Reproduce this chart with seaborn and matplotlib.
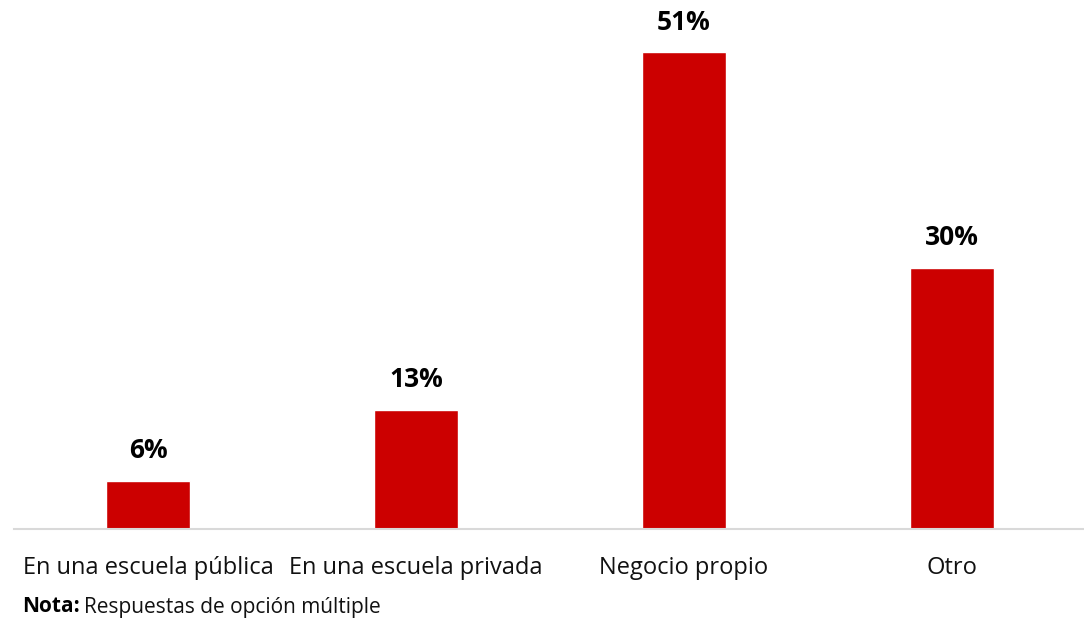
import matplotlib
matplotlib.use("Agg")
import matplotlib.pyplot as plt
import seaborn as sns
import pandas as pd

# data (bar heights) and the printed labels
categorias = ["En una escuela pública", "En una escuela privada", "Negocio propio", "Otro"]
valores = [5.1, 12.7, 51.0, 27.9]
etiquetas = ["6%", "13%", "51%", "30%"]

sns.set_theme(style="white")
plt.rcParams['font.family'] = ['Open Sans', 'DejaVu Sans']

df = pd.DataFrame({"cat": categorias, "val": valores})

W, H = 1084, 628
fig = plt.figure(figsize=(W / 100, H / 100), dpi=100)
ax = fig.add_axes([14 / W, (H - 528.5) / H, 1072 / W, 528.5 / H])

sns.barplot(data=df, x="cat", y="val", color="#cc0000", width=0.315,
            saturation=1, ax=ax)

ax.set_xlim(-0.5, 3.5)
ax.set_ylim(0, 56.6)
ax.set_xlabel("")
ax.set_ylabel("")
ax.set_yticks([])
for s in ["top", "right", "left"]:
    ax.spines[s].set_visible(False)
ax.spines["bottom"].set_color("#d9d9d9")
ax.spines["bottom"].set_linewidth(1.5)
ax.tick_params(axis="x", length=0, pad=20, labelsize=17, labelcolor="#111111")

for i, (v, t) in enumerate(zip(valores, etiquetas)):
    ax.annotate(t, (i, v), xytext=(0, 12), textcoords="offset points",
                ha="center", va="bottom", fontsize=19, fontweight="bold",
                color="#000000")

t1 = fig.text(22 / W, 1 - 607 / H, "Nota:", fontsize=15, fontweight="bold",
              va="center", ha="left", color="#000000")
fig.canvas.draw()
bb = t1.get_window_extent()
fig.text((bb.x1 + 4) / W, 1 - 607 / H, "Respuestas de opción múltiple",
         fontsize=15, va="center", ha="left", color="#111111")

fig.savefig("out.png", dpi=100)
